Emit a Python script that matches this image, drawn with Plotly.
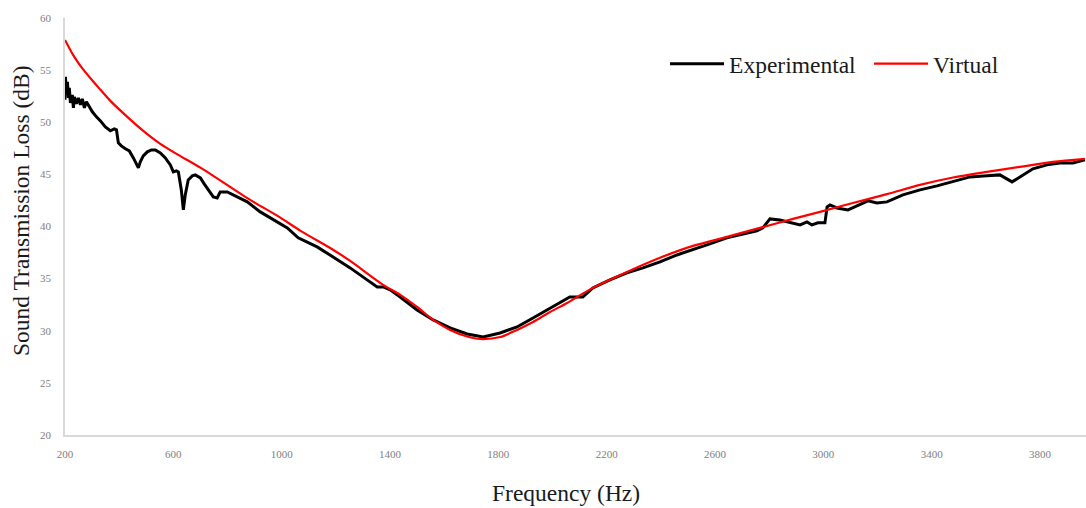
import plotly.graph_objects as go

# Experimental sound transmission loss
freq_exp = [200, 201.5, 205, 209, 212.5, 216, 220, 227, 231, 234.7, 242, 249.4, 256.8, 264, 271.6, 279,
            290, 301, 316, 331, 349, 367.5, 382, 390, 397, 408, 423, 437.6, 452.4, 463.5, 471, 478,
            489, 504, 519, 533.6, 552, 570.5, 589, 600, 611, 618.5, 629.5, 637, 644, 655, 670, 681,
            700, 714, 729, 747.6, 762, 773, 799, 836, 873, 921, 969, 1021, 1061, 1131, 1190, 1253,
            1315.5, 1353, 1375, 1400.6, 1437.6, 1500, 1559.5, 1622, 1685, 1744, 1806.6, 1869, 1928,
            1991, 2028, 2064, 2112, 2149, 2212, 2275, 2334, 2397, 2459.6, 2518.7, 2581, 2644, 2703,
            2755, 2777, 2803, 2840, 2888, 2914, 2940, 2958, 2980, 3006, 3014, 3025, 3050, 3091,
            3124, 3165, 3198, 3235, 3294, 3357, 3420, 3479, 3542, 3604, 3652, 3697, 3726, 3774,
            3826, 3874, 3922, 3966]
stl_exp = [52.15, 54.36, 53.11, 53.88, 52.34, 53.30, 51.86, 52.63, 51.38, 52.44, 51.77, 52.34, 51.67,
           52.24, 51.38, 51.96, 51.48, 51.00, 50.52, 50.13, 49.56, 49.18, 49.37, 49.27, 48.02, 47.73,
           47.45, 47.25, 46.58, 45.91, 45.62, 46.20, 46.77, 47.16, 47.35, 47.35, 47.06, 46.58, 45.91,
           45.24, 45.34, 45.24, 43.51, 41.59, 43.03, 44.47, 44.86, 44.95, 44.66, 44.09, 43.51, 42.84,
           42.74, 43.32, 43.32, 42.84, 42.36, 41.40, 40.63, 39.87, 38.91, 38.04, 37.08, 36.03, 34.88,
           34.20, 34.20, 33.92, 33.24, 32.00, 31.04, 30.27, 29.69, 29.40, 29.79, 30.36, 31.23, 32.19,
           32.76, 33.24, 33.24, 34.11, 34.88, 35.55, 36.03, 36.60, 37.27, 37.75, 38.33, 38.91, 39.29,
           39.58, 39.87, 40.73, 40.63, 40.35, 40.15, 40.44, 40.15, 40.35, 40.35, 41.88, 42.07, 41.78,
           41.59, 41.97, 42.46, 42.26, 42.36, 43.03, 43.51, 43.90, 44.28, 44.76, 44.86, 44.95, 44.28,
           44.76, 45.53, 45.91, 46.10, 46.10, 46.39]

# Virtual (simulated) sound transmission loss
freq_virt = [200, 231, 257, 305, 331, 367.5, 430, 489, 552, 615, 700, 884, 991, 1070, 1191, 1253,
             1375, 1438, 1500, 1560, 1622, 1685, 1733, 1807, 1869, 1928, 1991, 2054, 2149, 2275,
             2397, 2519, 2644, 2766, 2888, 2988, 3109, 3235, 3357, 3479, 3604, 3726, 3848, 3966]
stl_virt = [57.9, 56.41, 55.41, 53.88, 53.11, 52.05, 50.52, 49.18, 47.93, 46.92, 45.65, 42.55, 40.92,
            39.58, 37.75, 36.70, 34.40, 33.44, 32.28, 31.04, 30.08, 29.45, 29.21, 29.40, 30.08, 30.84,
            31.80, 32.67, 34.11, 35.64, 37.00, 38.14, 39.00, 39.87, 40.73, 41.40, 42.26, 43.10, 43.99,
            44.70, 45.24, 45.72, 46.20, 46.49]

x_ticks = [200, 600, 1000, 1400, 1800, 2200, 2600, 3000, 3400, 3800]
y_ticks = [20, 25, 30, 35, 40, 45, 50, 55, 60]

x_title = "Frequency (Hz)"
y_title = "Sound Transmission Loss (dB)"

SERIF = "Liberation Serif, Times New Roman, serif"

fig = go.Figure()
fig.add_trace(go.Scatter(x=freq_exp, y=stl_exp, mode="lines", name="Experimental",
                         line=dict(color="black", width=3)))
fig.add_trace(go.Scatter(x=freq_virt, y=stl_virt, mode="lines", name="Virtual",
                         line=dict(color="#ff0000", width=2.2, shape="spline", smoothing=0.8)))

fig.update_layout(
    width=1086, height=508,
    margin=dict(l=65, r=0, t=18, b=73),
    paper_bgcolor="white", plot_bgcolor="white",
    font=dict(family=SERIF, color="#1a1a1a"),
    showlegend=True,
    legend=dict(orientation="h", x=0.5877, y=0.89, xanchor="left", yanchor="middle",
                font=dict(family=SERIF, size=23.5, color="#1a1a1a"),
                bgcolor="rgba(0,0,0,0)", itemwidth=54, entrywidth=135),
    annotations=[
        dict(text=x_title, xref="paper", yref="paper", x=0.4907, y=-0.139,
             xanchor="center", yanchor="middle", showarrow=False,
             font=dict(family=SERIF, size=23.5, color="#1a1a1a")),
        dict(text=y_title, xref="paper", yref="paper", x=-0.0431, y=0.5396,
             xanchor="center", yanchor="middle", showarrow=False, textangle=-90,
             font=dict(family=SERIF, size=23.5, color="#1a1a1a")),
    ],
)
fig.update_xaxes(
    range=[200, 3970], tickvals=x_ticks, ticktext=[str(v) for v in x_ticks],
    showgrid=False, zeroline=False, showline=True, linecolor="#d9d9d9", linewidth=1.5,
    ticks="", ticklabelstandoff=8, automargin=False,
    tickfont=dict(family=SERIF, size=11, color="#808080"),
)
fig.update_yaxes(
    range=[20, 60], tickvals=y_ticks, ticktext=[str(v) for v in y_ticks],
    showgrid=False, zeroline=False, showline=True, linecolor="#d9d9d9", linewidth=1.5,
    ticks="", ticklabelstandoff=10, automargin=False,
    tickfont=dict(family=SERIF, size=11, color="#808080"),
)

fig.write_html("out.html", config={"displayModeBar": False},
               post_script="document.body.style.margin='0';document.body.style.overflow='hidden';")
